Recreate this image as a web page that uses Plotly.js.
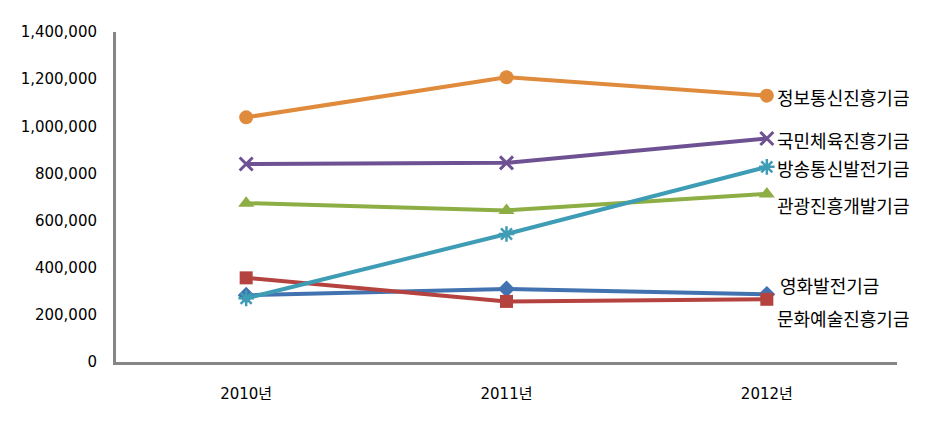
<!DOCTYPE html>
<html>
<head>
<meta charset="utf-8">
<script src="https://cdn.plot.ly/plotly-3.0.1.min.js"></script>
<style>body{margin:0;background:#fff;}#chart{width:951px;height:445px;}</style>
</head>
<body>
<div id="chart"></div>
<script>
const years = ['2010년', '2011년', '2012년'];
const infoComm = [1038000, 1208000, 1130000];      // 정보통신진흥기금
const sports = [840000, 845000, 948000];           // 국민체육진흥기금
const broadcast = [270000, 543000, 828000];        // 방송통신발전기금
const tourism = [674000, 643000, 713000];          // 관광진흥개발기금
const film = [283000, 310000, 287000];             // 영화발전기금
const arts = [357000, 257000, 266000];             // 문화예술진흥기금
const seriesNames = ['영화발전기금', '문화예술진흥기금', '관광진흥개발기금', '방송통신발전기금', '국민체육진흥기금', '정보통신진흥기금'];
const yTickVals = [0, 200000, 400000, 600000, 800000, 1000000, 1200000, 1400000];
const yTickText = ['0', '200,000', '400,000', '600,000', '800,000', '1,000,000', '1,200,000', '1,400,000'];

const font = "'DejaVu Sans', 'Noto Sans CJK KR', sans-serif";
const krFont = "'Noto Sans CJK KR', sans-serif";
function tr(name, y, color, symbol, size, mlw) {
  return {
    type: 'scatter', mode: 'lines+markers', name: name, x: years, y: y,
    line: {color: color, width: 4},
    marker: {symbol: symbol, size: size, color: color, line: {color: color, width: mlw || 0}},
    hoverinfo: 'x+y+name'
  };
}
const data = [
  tr(seriesNames[0], film, '#4272B0', 'diamond', 13),
  tr(seriesNames[1], arts, '#B4433F', 'square', 13),
  tr(seriesNames[2], tourism, '#8DAE45', 'triangle-up', 14),
  tr(seriesNames[3], broadcast, '#3E9DB5', 'asterisk-open', 13, 2.5),
  tr(seriesNames[4], sports, '#6E5192', 'x-thin-open', 13, 3),
  tr(seriesNames[5], infoComm, '#E08A3C', 'circle', 14)
];

const labelY = [285, 318, 205, 168, 140, 97];
const labelX = [778, 775, 775, 775, 775, 775];
const annotations = seriesNames.map((n, i) => ({
  text: n, xref: 'paper', yref: 'paper',
  x: (labelX[i] - 116) / 781, y: (362 - labelY[i]) / 330,
  xanchor: 'left', yanchor: 'middle', showarrow: false,
  font: {family: krFont, size: 18, color: '#000'}
}));

const layout = {
  width: 951, height: 445,
  margin: {l: 116, r: 54, t: 32, b: 83},
  paper_bgcolor: '#fff', plot_bgcolor: '#fff',
  showlegend: false,
  font: {family: font, size: 15, color: '#000'},
  xaxis: {
    type: 'category', range: [-0.5, 2.5], showgrid: false, zeroline: false,
    showline: true, linecolor: '#868686', linewidth: 3,
    ticks: '', ticklabelstandoff: 16,
    tickfont: {family: font, size: 15, color: '#000'}
  },
  yaxis: {
    range: [0, 1400000], showgrid: false, zeroline: false,
    showline: true, linecolor: '#868686', linewidth: 3,
    tickvals: yTickVals, ticktext: yTickText,
    ticks: '', ticklabelstandoff: 13,
    tickfont: {family: font, size: 15, color: '#000'}
  },
  annotations: annotations
};
Plotly.newPlot('chart', data, layout, {displayModeBar: false, staticPlot: true});
</script>
</body>
</html>
